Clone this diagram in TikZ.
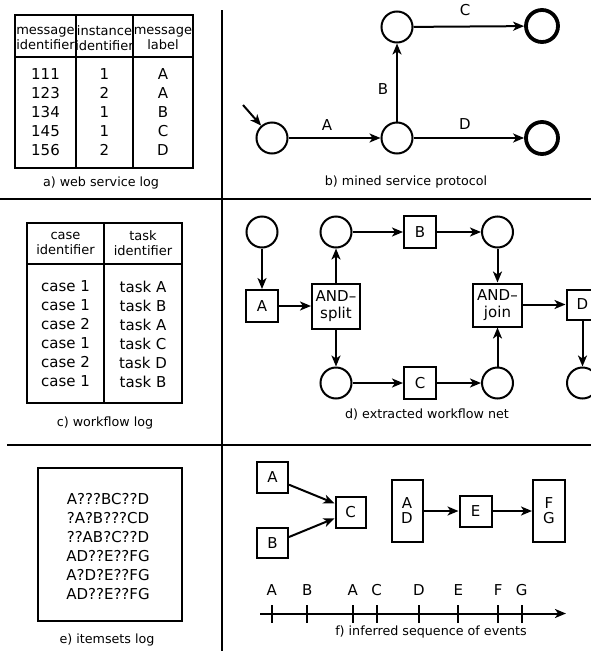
\documentclass[tikz,border=0pt]{standalone}
\usepackage{fontspec}
\setmainfont{DejaVu Sans}
\usetikzlibrary{arrows.meta}
\begin{document}
\begin{tikzpicture}[x=1pt,y=-1pt,
  ln/.style={line width=2pt},
  arr/.style={line width=2pt,-{Stealth[length=11pt,width=9pt,inset=3pt]}},
  place/.style={circle,draw,line width=2pt,minimum size=31pt,inner sep=0pt},
  final/.style={circle,draw,line width=3.8pt,minimum size=32pt,inner sep=0pt},
  trans/.style={rectangle,draw,line width=2pt,inner sep=0pt,font=\fontsize{15}{17}\selectfont},
  hdr/.style={align=center,inner sep=0pt,font=\fontsize{13}{15}\selectfont},
  dat/.style={align=center,inner sep=0pt,font=\fontsize{15}{19}\selectfont},
  captext/.style={inner sep=0pt,font=\fontsize{12.7}{14}\selectfont},
  lbl/.style={inner sep=0pt,font=\fontsize{15}{17}\selectfont}]
\useasboundingbox (0,0) rectangle (591,651);
% dividers
\draw[ln] (222,10) -- (222,651);
\draw[ln] (0,199) -- (591,199);
\draw[ln] (7,444.5) -- (591,444.5);

% ---------- a) web service log
\draw[ln] (15,15) rectangle (193,168);
\draw[ln] (15,57) -- (193,57);
\draw[ln] (76,15) -- (76,168);
\draw[ln] (133,15) -- (133,168);
\node[hdr] (ah1) at (45.5,38) {message\\identifier};
\node[hdr] (ah2) at (104.5,38) {instance\\identifier};
\node[hdr] (ah3) at (163,38) {message\\label};
\node[dat] (ad1) at (45.5,112) {111\\123\\134\\145\\156};
\node[dat] (ad2) at (104.5,112) {1\\2\\1\\1\\2};
\node[dat] (ad3) at (163,112) {A\\A\\B\\C\\D};
\node[captext] (capa) at (101,183) {a) web service log};

% ---------- b) mined service protocol
\node[place] (s0) at (272,138) {};
\node[place] (s1) at (397,138) {};
\node[place] (s2) at (397,27) {};
\node[final] (s3) at (542,26) {};
\node[final] (s4) at (542,138) {};
\coordinate (init) at (243,105);
\draw[arr] (init) -- (s0);
\draw[arr] (s0) -- (s1);
\draw[arr] (s1) -- (s2);
\draw[arr] (s2) -- (s3);
\draw[arr] (s1) -- (s4);
\node[lbl] (la) at (327,125) {A};
\node[lbl] (lb) at (383,89) {B};
\node[lbl] (lc) at (465,10) {C};
\node[lbl] (ld) at (465,124) {D};
\node[captext] (capb) at (406,182) {b) mined service protocol};

% ---------- c) workflow log
\draw[ln] (27,223) rectangle (182,403);
\draw[ln] (27,264) -- (182,264);
\draw[ln] (104,223) -- (104,403);
\node[hdr] (ch1) at (65.5,243) {case\\identifier};
\node[hdr] (ch2) at (143,243) {task\\identifier};
\node[dat] (cd1) at (65.5,334) {case 1\\case 1\\case 2\\case 1\\case 2\\case 1};
\node[dat] (cd2) at (143,334) {task A\\task B\\task A\\task C\\task D\\task B};
\node[captext] (capc) at (105,423) {c) workflow log};

% ---------- d) extracted workflow net
\node[place] (p1) at (262,232) {};
\node[trans,minimum width=32pt,minimum height=32pt] (tA) at (262,306) {A};
\node[trans,minimum width=48pt,minimum height=45pt,align=center,font=\fontsize{15}{17}\selectfont] (split) at (336,306) {AND–\\split};
\node[place] (p2) at (336,232) {};
\node[trans,minimum width=32pt,minimum height=32pt] (tB) at (420,232) {B};
\node[place] (p3) at (497.5,232) {};
\node[trans,minimum width=49pt,minimum height=43pt,align=center,font=\fontsize{15}{17}\selectfont] (join) at (497.5,305) {AND–\\join};
\node[trans,minimum width=32pt,minimum height=30pt] (tD) at (582.5,304.5) {D};
\node[place] (p4) at (336,383) {};
\node[trans,minimum width=32pt,minimum height=32pt] (tC) at (420,383) {C};
\node[place] (p5) at (497.5,383) {};
\node[place] (p6) at (582.5,383) {};
\draw[arr] (p1) -- (tA);
\draw[arr] (tA) -- (split);
\draw[arr] (split) -- (p2);
\draw[arr] (split) -- (p4);
\draw[arr] (p2) -- (tB);
\draw[arr] (tB) -- (p3);
\draw[arr] (p4) -- (tC);
\draw[arr] (tC) -- (p5);
\draw[arr] (p3) -- (join);
\draw[arr] (p5) -- (join);
\draw[arr] (join.east |- tD) -- (tD);
\draw[arr] (tD) -- (p6);
\node[captext] (capd) at (427,415) {d) extracted workflow net};

% ---------- e) itemsets log
\draw[ln] (38,468) rectangle (181.5,621);
\node[dat] (items) at (108,547) {A???BC??D\\?A?B???CD\\??AB?C??D\\AD??E??FG\\A?D?E??FG\\AD??E??FG};
\node[captext] (cape) at (107,640) {e) itemsets log};

% ---------- f) inferred sequence of events
\node[trans,minimum width=31pt,minimum height=31pt] (fA) at (272.5,477) {A};
\node[trans,minimum width=31pt,minimum height=30pt] (fB) at (272.5,543) {B};
\node[trans,minimum width=30pt,minimum height=31pt] (fC) at (350.5,512.5) {C};
\node[trans,minimum width=31pt,minimum height=62pt,align=center,font=\fontsize{15}{15}\selectfont] (fAD) at (407,510.5) {A\\D};
\node[trans,minimum width=32pt,minimum height=31pt] (fE) at (475.5,511) {E};
\node[trans,minimum width=32pt,minimum height=62pt,align=center,font=\fontsize{15}{15}\selectfont] (fFG) at (549,510.5) {F\\G};
\draw[arr] (fA.-25) -- (fC.150);
\draw[arr] (fB.20) -- (fC.200);
\draw[arr] (fAD.east |- fE) -- (fE);
\draw[arr] (fE) -- (fFG.west |- fE);
\coordinate (t0) at (260,613.5);
\coordinate (t1) at (566,613.5);
\draw[arr] (t0) -- (t1);
\foreach \x/\l in {271.7/A,307.3/B,352.7/A,376.7/C,419/D,458.3/E,498.3/F,521.7/G}{
  \draw[ln] (\x,605) -- (\x,623);
  \node[lbl] at (\x,590) {\l};
}
\node[captext] (capf) at (431,632) {f) inferred sequence of events};
\end{tikzpicture}
\end{document}
